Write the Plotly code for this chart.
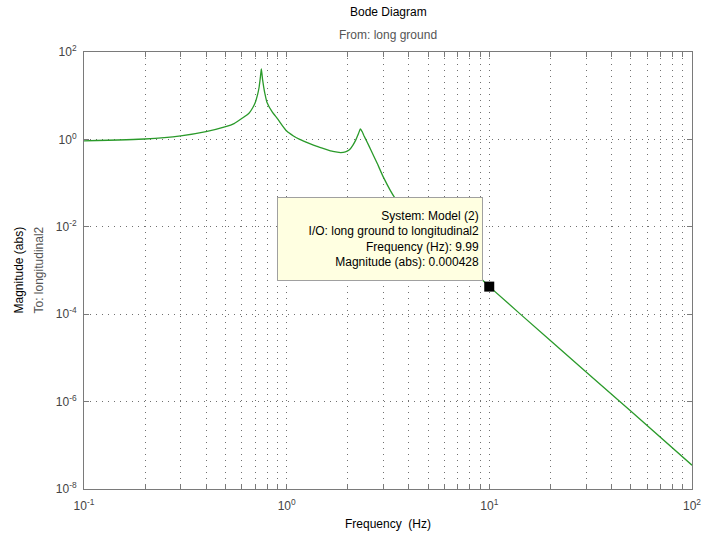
import plotly.graph_objects as go

# ---- data ----
freq_hz = [0.1, 0.2, 0.3, 0.4, 0.5, 0.55, 0.6, 0.65, 0.68, 0.7, 0.72, 0.73, 0.74, 0.745, 0.75,
           0.755, 0.76, 0.77, 0.78, 0.8, 0.85, 0.9, 0.95, 1.0, 1.08, 1.16, 1.3, 1.4, 1.55, 1.69,
           1.85, 1.95, 2.04, 2.12, 2.2, 2.26, 2.31, 2.36, 2.4, 2.5, 2.6, 2.8, 3.0, 3.4,
           4.0, 5.0, 7.0, 10.0, 20.0, 50.0, 100.0]
magnitude = [0.93, 1.02, 1.2, 1.5, 1.95, 2.3, 3.0, 3.9, 5.3, 7.0, 11.0, 15.0, 24.0, 32.0, 41.0,
             32.0, 24.0, 16.0, 11.5, 7.0, 4.2, 3.0, 2.1, 1.55, 1.2, 1.0, 0.8, 0.7, 0.6, 0.53,
             0.5, 0.52, 0.58, 0.73, 1.0, 1.35, 1.75, 1.5, 1.25, 0.85, 0.58, 0.28, 0.137, 0.048,
             0.023, 0.009, 0.0021, 0.000428, 2.5e-5, 6.0e-7, 3.5e-8]

cursor_freq = [9.99]
cursor_mag = [0.000428]

x_tickvals = [m * 10 ** e for e in (-1, 0, 1) for m in range(1, 10)] + [100]
x_ticktext = [("10<sup>%d</sup>" % e if m == 1 else "") for e in (-1, 0, 1) for m in range(1, 10)] + ["10<sup>2</sup>"]
y_tickvals = [1e-8, 1e-6, 1e-4, 1e-2, 1e0, 1e2]
y_ticktext = ["10<sup>-8</sup>", "10<sup>-6</sup>", "10<sup>-4</sup>", "10<sup>-2</sup>", "10<sup>0</sup>", "10<sup>2</sup>"]

tooltip_lines = ["System: Model (2)", "I/O: long ground to longitudinal2",
                 "Frequency (Hz): 9.99", "Magnitude (abs): 0.000428"]

FONT = "Liberation Sans, Arial, sans-serif"
LINE_GREEN = "#2a9a2a"
GRID = "#707070"

fig = go.Figure()
fig.add_trace(go.Scatter(x=freq_hz, y=magnitude, mode="lines",
                         line=dict(color=LINE_GREEN, width=1.3, shape="spline", smoothing=0.4),
                         showlegend=False))
fig.add_trace(go.Scatter(x=cursor_freq, y=cursor_mag, mode="markers",
                         marker=dict(symbol="square", size=10, color="black"), showlegend=False))

axis_common = dict(showline=True, linecolor="#7a7a7a", linewidth=1, mirror="allticks",
                   ticks="inside", ticklen=5, tickcolor="#7a7a7a", zeroline=False,
                   automargin=False,
                   tickfont=dict(family=FONT, size=12, color="#444444"),
                   griddash="1px,5px", gridcolor=GRID, gridwidth=1)

fig.update_xaxes(type="log", range=[-1, 2], tickmode="array", tickvals=x_tickvals,
                 ticktext=x_ticktext, showgrid=True, ticklabelstandoff=6,
                 ticklabeloverflow="allow", **axis_common)
fig.update_yaxes(type="log", range=[-8, 2], tickmode="array", tickvals=y_tickvals,
                 ticktext=y_ticktext, showgrid=True, ticklabelstandoff=4, **axis_common)

fig.update_layout(
    template="none",
    width=704, height=545,
    margin=dict(l=84, r=12, t=52, b=56, autoexpand=False),
    paper_bgcolor="white", plot_bgcolor="white",
    font=dict(family=FONT, size=12, color="black"),
)

fig.add_annotation(text="Bode Diagram", xref="paper", yref="paper", x=0.5, y=1,
                   yanchor="middle", yshift=40, showarrow=False, font=dict(size=12, color="black"))
fig.add_annotation(text="From: long ground", xref="paper", yref="paper", x=0.5, y=1,
                   yanchor="middle", yshift=17, showarrow=False, font=dict(size=12, color="#555555"))
fig.add_annotation(text="Frequency  (Hz)", xref="paper", yref="paper", x=0.5, y=0,
                   yanchor="middle", yshift=-35, showarrow=False, font=dict(size=12, color="black"))
fig.add_annotation(text="Magnitude (abs)", xref="paper", yref="paper", x=0, y=0.5,
                   xanchor="center", xshift=-66, textangle=-90, showarrow=False,
                   font=dict(size=12, color="black"))
fig.add_annotation(text="To: longitudinal2", xref="paper", yref="paper", x=0, y=0.5,
                   xanchor="center", xshift=-46, textangle=-90, showarrow=False,
                   font=dict(size=12, color="#555555"))
fig.add_annotation(text="<br>".join(tooltip_lines), xref="paper", yref="paper",
                   x=0.487, y=0.572, showarrow=False, align="right",
                   width=198, height=76, borderpad=3,
                   bgcolor="#ffffe1", bordercolor="#a0a0a0", borderwidth=1,
                   font=dict(size=12, color="black"))

# remove the page's default 8px body margin so the figure fills the window exactly
fig.write_html("out.html", config={"displayModeBar": False},
               post_script="document.body.style.margin='0';")
